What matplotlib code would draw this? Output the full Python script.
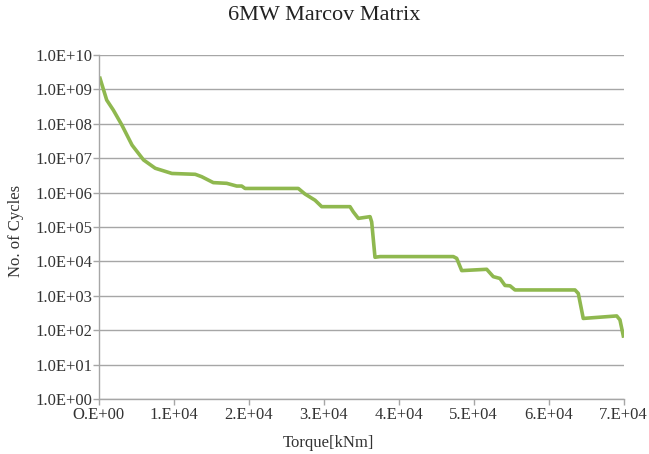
import matplotlib
matplotlib.use('Agg')
import matplotlib.pyplot as plt
from matplotlib.ticker import FixedLocator, FixedFormatter

# torque [kNm] vs cycles
torque = [200, 1090, 1975, 3100, 4470, 6000, 7560, 9780, 12890, 13750,
          15300, 17090, 18420, 19090, 19530, 26630, 27520, 28860, 29750, 33520,
          33960, 34630, 36190, 36410, 36850, 37520, 47290, 47740, 48410, 51740,
          52620, 53510, 54180, 54850, 55510, 63510, 63950, 64610, 69070, 69500,
          69950]
cycles = [2.1e9, 4.9e8, 2.5e8, 9.3e7, 2.4e7, 8.9e6, 5.1e6, 3.6e6, 3.4e6, 2.9e6,
          1.95e6, 1.86e6, 1.55e6, 1.55e6, 1.32e6, 1.32e6, 9.1e5, 6.0e5, 3.9e5, 3.9e5,
          2.75e5, 1.78e5, 2.0e5, 1.4e5, 1.32e4, 1.38e4, 1.38e4, 1.23e4, 5.4e3, 5.9e3,
          3.6e3, 3.2e3, 2.0e3, 1.95e3, 1.48e3, 1.48e3, 1.17e3, 2.2e2, 2.6e2, 2.0e2,
          6.8e1]

xticks = [0, 10000, 20000, 30000, 40000, 50000, 60000, 70000]
xlabels = ['O.E+00', '1.E+04', '2.E+04', '3.E+04', '4.E+04', '5.E+04', '6.E+04', '7.E+04']
yticks = [10.0 ** k for k in range(0, 11)]
ylabels = ['1.0E+%02d' % k for k in range(0, 11)]

plt.rcParams['font.family'] = ['Liberation Serif', 'DejaVu Serif']

fig = plt.figure(figsize=(6.49, 4.54), dpi=100)
ax = fig.add_axes([0.1518, 0.1211, 0.8092, 0.7578])

ax.plot(torque, cycles, color='#8fb84f', lw=2.6, solid_joinstyle='round')

ax.set_yscale('log')
ax.set_xlim(0, 70000)
ax.set_ylim(1, 1e10)
ax.xaxis.set_major_locator(FixedLocator(xticks))
ax.xaxis.set_major_formatter(FixedFormatter(xlabels))
ax.yaxis.set_major_locator(FixedLocator(yticks))
ax.yaxis.set_major_formatter(FixedFormatter(ylabels))
ax.yaxis.set_minor_locator(FixedLocator([]))

ax.grid(axis='y', color='#a6a6a6', lw=1.0)
ax.set_axisbelow(True)
for s in ['top', 'right']:
    ax.spines[s].set_visible(False)
for s in ['left', 'bottom']:
    ax.spines[s].set_color('#a6a6a6')
    ax.spines[s].set_linewidth(1.0)
ax.tick_params(axis='both', direction='out', length=4, width=1.0,
               color='#a6a6a6', labelsize=12, labelcolor='#333333', pad=0.5)
ax.tick_params(axis='x', pad=2)

ax.set_xlabel('Torque[kNm]', fontsize=12, color='#333333')
ax.xaxis.set_label_coords(0.437, -0.105)
ax.set_ylabel('No. of Cycles', fontsize=12, color='#333333')
ax.yaxis.set_label_coords(-0.142, 0.49)
fig.text(0.5, 0.965, '6MW Marcov Matrix', ha='center', va='center',
         fontsize=16, color='#222222')

fig.savefig('out.png', dpi=100)
